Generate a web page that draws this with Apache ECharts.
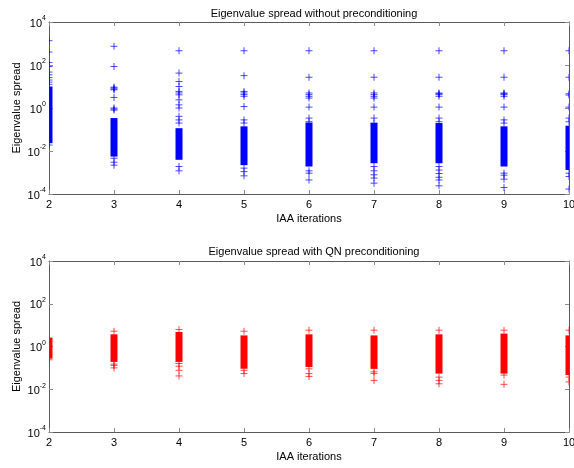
<!DOCTYPE html>
<html>
<head>
<meta charset="utf-8">
<script src="https://cdn.jsdelivr.net/npm/echarts@6/dist/echarts.min.js"></script>
<style>
  html, body { margin: 0; padding: 0; background: #fff; }
  #chart { width: 574px; height: 468px; }
</style>
</head>
<body>
<div id="chart"></div>
<script>
// IAA iterations on x
const iterations = [2, 3, 4, 5, 6, 7, 8, 9, 10]

// top plot: eigenvalue spread without preconditioning
// dense block of markers per iteration (low / high end)
const plainBandLow = [0.023, 0.0055, 0.0039, 0.0022, 0.0019, 0.0027, 0.0027, 0.0019, 0.0013]
const plainBandHigh = [10, 0.34, 0.115, 0.14, 0.21, 0.2, 0.2, 0.14, 0.15]
// single markers outside the block
const plainIt2 = [1350, 400, 130, 85, 47, 35, 26, 20, 16, 12.6, 0.019]
const plainIt3 = [740, 85, 9.3, 8.5, 7.6, 7.0, 3.1, 1.0, 0.89, 0.8, 0.0046, 0.003, 0.0022]
const plainIt4 = [460, 42, 17, 10, 5.9, 5.0, 4.1, 2.4, 1.4, 1.0, 0.41, 0.28, 0.2, 0.0019, 0.0012]
const plainIt5 = [460, 32, 5.9, 5.0, 4.2, 3.5, 1.17, 0.28, 0.2, 0.0016, 0.0011, 0.0007]
const plainIt6 = [460, 27, 5.0, 4.2, 3.5, 2.9, 1.1, 0.34, 0.23, 0.0012, 0.00093, 0.00045]
const plainIt7 = [460, 27, 5.0, 4.2, 3.5, 2.9, 1.1, 0.34, 0.2, 0.0019, 0.0012, 0.00078, 0.00055, 0.00032]
const plainIt8 = [460, 27, 5.0, 4.6, 4.2, 3.5, 1.1, 0.34, 0.23, 0.0019, 0.0013, 0.0009, 0.0006, 0.00045, 0.00024]
const plainIt9 = [460, 27, 5.0, 4.6, 4.2, 3.5, 1.1, 0.28, 0.2, 0.00093, 0.00075, 0.00049, 0.0002]
const plainIt10 = [460, 27, 4.6, 4.0, 1.1, 0.34, 0.23, 0.00093, 0.00065, 0.00017]

// bottom plot: with QN preconditioning
const qnBandLow = [0.27, 0.19, 0.19, 0.091, 0.11, 0.09, 0.054, 0.054, 0.046]
const qnBandHigh = [2.6, 3.7, 4.8, 3.3, 3.7, 3.3, 3.7, 4.0, 3.3]
const qnIt2 = [0.24]
const qnIt3 = [5.2, 0.15, 0.13, 0.1]
const qnIt4 = [6.2, 0.16, 0.12, 0.077, 0.042]
const qnIt5 = [5.2, 0.077, 0.054]
const qnIt6 = [5.8, 0.09, 0.054, 0.04]
const qnIt7 = [5.8, 0.065, 0.054, 0.026]
const qnIt8 = [5.8, 0.037, 0.026, 0.018]
const qnIt9 = [5.8, 0.046, 0.017]
const qnIt10 = [5.8, 0.037, 0.022]

const FONT = 'Liberation Sans'
const BOX = '#5a5a5a'
const TICK = '#8c8c8c'

function pairs(cols) {
  const out = []
  cols.forEach((col, i) => {
    col.forEach((v) => out.push([iterations[i], v]))
  })
  return out
}

// '+' marker, clipped to the plot box like matlab does
function plusItem(color) {
  return function (params, api) {
    const p = api.coord([api.value(0), api.value(1)])
    const box = params.coordSys
    const h = echarts.graphic.clipRectByRect({ x: p[0] - 3.5, y: p[1] - 0.5, width: 7, height: 1 }, box)
    const v = echarts.graphic.clipRectByRect({ x: p[0] - 0.5, y: p[1] - 3.5, width: 1, height: 7 }, box)
    const children = []
    if (h) children.push({ type: 'rect', shape: h, style: { fill: color, opacity: 0.7 } })
    if (v) children.push({ type: 'rect', shape: v, style: { fill: color, opacity: 0.7 } })
    return { type: 'group', children: children }
  }
}

// solid block where the markers overlap
function bandItem(color) {
  return function (params, api) {
    const top = api.coord([api.value(0), api.value(2)])
    const bot = api.coord([api.value(0), api.value(1)])
    const r = echarts.graphic.clipRectByRect({ x: top[0] - 3.5, y: top[1], width: 7, height: bot[1] - top[1] }, params.coordSys)
    if (!r) return null
    return { type: 'rect', shape: r, style: { fill: color } }
  }
}

function xAxes(grid) {
  const base = {
    gridIndex: grid, type: 'value', min: 2, max: 10, interval: 1,
    axisLine: { show: true, onZero: false, lineStyle: { color: BOX, width: 1 } },
    axisTick: { show: true, inside: true, length: 4, lineStyle: { color: TICK } },
    splitLine: { show: false }
  }
  return [
    Object.assign({}, base, {
      position: 'bottom',
      axisLabel: { margin: 5, color: '#000', fontFamily: FONT, fontSize: 11 },
      name: 'IAA iterations', nameLocation: 'middle', nameGap: 19,
      nameTextStyle: { color: '#000', fontFamily: FONT, fontSize: 11 }
    }),
    Object.assign({}, base, { position: 'top', axisLabel: { show: false } })
  ]
}

function yAxes(grid) {
  const base = {
    gridIndex: grid, type: 'log', logBase: 10, min: 1e-4, max: 1e4, interval: 2,
    axisLine: { show: true, onZero: false, lineStyle: { color: BOX, width: 1 } },
    axisTick: { show: true, inside: true, length: 4, lineStyle: { color: TICK } },
    splitLine: { show: false }
  }
  return [
    Object.assign({}, base, {
      position: 'left',
      axisLabel: {
        margin: 3, color: '#000', fontFamily: FONT,
        formatter: function (v) {
          return '{b|10}{s|' + Math.round(Math.log10(v)) + '}'
        },
        rich: {
          b: { fontSize: 11, fontFamily: FONT, color: '#000', lineHeight: 14, verticalAlign: 'bottom' },
          s: { fontSize: 7, fontFamily: FONT, color: '#000', lineHeight: 14, verticalAlign: 'top', padding: [0, 0, 4, 0] }
        }
      },
      name: 'Eigenvalue spread', nameLocation: 'middle', nameGap: 27, nameMoveOverlap: false,
      nameTextStyle: { color: '#000', fontFamily: FONT, fontSize: 11 }
    }),
    Object.assign({}, base, { position: 'right', axisLabel: { show: false } })
  ]
}

const chart = echarts.init(document.getElementById('chart'), null, { renderer: 'canvas' })

const option = {
  backgroundColor: '#fff',
  animation: false,
  title: [
    { text: 'Eigenvalue spread without preconditioning', left: 309, top: 3, textAlign: 'center',
      textStyle: { fontFamily: FONT, fontSize: 11, fontWeight: 'normal', color: '#000' } },
    { text: 'Eigenvalue spread with QN preconditioning', left: 309, top: 241, textAlign: 'center',
      textStyle: { fontFamily: FONT, fontSize: 11, fontWeight: 'normal', color: '#000' } }
  ],
  grid: [
    { left: 49, top: 22, width: 520, height: 172, containLabel: false, outerBoundsMode: 'none' },
    { left: 49, top: 261, width: 520, height: 171, containLabel: false, outerBoundsMode: 'none' }
  ],
  xAxis: xAxes(0).concat(xAxes(1)),
  yAxis: yAxes(0).concat(yAxes(1)),
  series: [
    {
      type: 'custom', xAxisIndex: 0, yAxisIndex: 0,
      data: iterations.map((x, i) => [x, plainBandLow[i], plainBandHigh[i]]),
      encode: { x: 0, y: [1, 2] },
      renderItem: bandItem('#0000ff')
    },
    {
      type: 'custom', xAxisIndex: 0, yAxisIndex: 0,
      data: pairs([plainIt2, plainIt3, plainIt4, plainIt5, plainIt6, plainIt7, plainIt8, plainIt9, plainIt10]),
      encode: { x: 0, y: 1 },
      renderItem: plusItem('#0000ff')
    },
    {
      type: 'custom', xAxisIndex: 2, yAxisIndex: 2,
      data: iterations.map((x, i) => [x, qnBandLow[i], qnBandHigh[i]]),
      encode: { x: 0, y: [1, 2] },
      renderItem: bandItem('#ff0000')
    },
    {
      type: 'custom', xAxisIndex: 2, yAxisIndex: 2,
      data: pairs([qnIt2, qnIt3, qnIt4, qnIt5, qnIt6, qnIt7, qnIt8, qnIt9, qnIt10]),
      encode: { x: 0, y: 1 },
      renderItem: plusItem('#ff0000')
    }
  ]
}

chart.setOption(option)
</script>
</body>
</html>
